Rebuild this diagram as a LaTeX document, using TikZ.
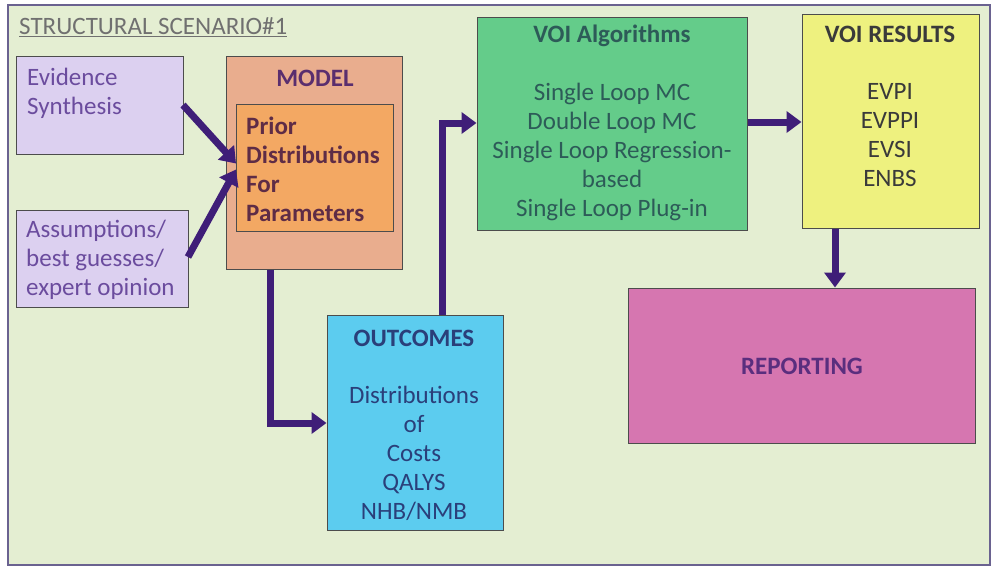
\documentclass[tikz,border=0pt]{standalone}
\usepackage{fontspec}
\setmainfont{Carlito}
\usetikzlibrary{arrows.meta}
\definecolor{bgc}{HTML}{E4EED2}
\definecolor{framec}{HTML}{6A6290}
\definecolor{lav}{HTML}{DCD0F0}
\definecolor{salmon}{HTML}{E9AD8E}
\definecolor{orng}{HTML}{F3A863}
\definecolor{cyanb}{HTML}{5CCCEF}
\definecolor{greenb}{HTML}{64CC8A}
\definecolor{yellowb}{HTML}{EEF17F}
\definecolor{pinkb}{HTML}{D676B0}
\definecolor{arrc}{HTML}{3F1E78}
\definecolor{lavtext}{HTML}{6B4C9E}
\definecolor{modeltext}{HTML}{5A2E6E}
\definecolor{priortext}{HTML}{5E2C46}
\definecolor{voitext}{HTML}{2D5B58}
\definecolor{restext}{HTML}{3A3A3A}
\definecolor{outtext}{HTML}{2A3F7A}
\definecolor{reptext}{HTML}{5A2E7E}
\definecolor{titletext}{HTML}{707070}
\tikzset{
  boxc/.style={draw=black!70, line width=1pt, inner sep=0pt},
  txt/.style={inner sep=0pt, font=\fontsize{25}{29}\selectfont, align=center},
  btxt/.style={txt, font=\fontsize{25}{29}\selectfont\bfseries},
  conn/.style={draw=arrc, line width=7pt, -{Triangle[length=15pt,width=21pt]}},
}
\begin{document}
\begin{tikzpicture}[x=1pt,y=1pt]
\useasboundingbox (0,0) rectangle (993,-568);
\node[draw=framec, fill=bgc, line width=1.2pt, minimum width=982pt, minimum height=560pt, inner sep=0pt] (frame) at (499,-285) {};
\node[anchor=west, inner sep=0pt, text=titletext, font=\fontsize{25}{28}\selectfont] (title) at (19,-27) {\underline{STRUCTURAL SCENARIO\#1}};

% boxes
\node[boxc, fill=lav, minimum width=167pt, minimum height=98pt] (evid) at (99.5,-105) {};
\node[boxc, fill=lav, minimum width=172pt, minimum height=97pt] (assum) at (102,-258.5) {};
\node[boxc, fill=salmon, minimum width=176pt, minimum height=213pt] (model) at (314,-162.5) {};
\node[boxc, fill=orng, minimum width=157pt, minimum height=127pt] (prior) at (314.5,-167.5) {};
\node[boxc, fill=cyanb, minimum width=176pt, minimum height=215pt] (outc) at (415,-422.5) {};
\node[boxc, fill=greenb, minimum width=270pt, minimum height=213pt] (voia) at (612,-123.5) {};
\node[boxc, fill=yellowb, minimum width=177pt, minimum height=214pt] (voir) at (890.5,-121) {};
\node[boxc, fill=pinkb, minimum width=347pt, minimum height=155pt] (rep) at (801.5,-365.5) {};

% texts
\node[txt, anchor=west, align=left, text=lavtext] (evidt) at (27,-93) {Evidence\\Synthesis};
\node[txt, anchor=west, align=left, text=lavtext] (assumt) at (26,-260) {Assumptions/\\best guesses/\\expert opinion};
\node[btxt, text=modeltext] (modelt) at (315,-78) {MODEL};
\node[btxt, anchor=west, align=left, text=priortext] (priort) at (246,-169) {Prior\\Distributions\\For\\Parameters};
\node[btxt, text=outtext] (outt) at (414,-338) {OUTCOMES};
\node[txt, text=outtext] (outb) at (414,-453) {Distributions\\of\\Costs\\QALYS\\NHB/NMB};
\node[btxt, text=voitext] (voiat) at (612,-36) {VOI Algorithms};
\node[txt, text=voitext] (voiab) at (612,-152) {Single Loop MC\\Double Loop MC\\Single Loop Regression-\\based\\Single Loop Plug-in};
\node[btxt, text=restext] (voirt) at (890,-34) {VOI RESULTS};
\node[txt, text=restext] (voirb) at (890,-135) {EVPI\\EVPPI\\EVSI\\ENBS};
\node[btxt, text=reptext] (rept) at (802,-366) {REPORTING};

% connectors
\coordinate (e0) at (183,-105);
\coordinate (a0) at (188,-257);
\coordinate (pin) at (236,-166.5);
\draw[conn] (e0) -- ([yshift=3pt]pin);
\draw[conn] (a0) -- ([yshift=-3pt]pin);
\draw[conn] (model.south -| 270,0) |- (outc.west |- 0,-423);
\draw[conn] (outc.north -| 442,0) |- (voia.west |- 0,-123);
\draw[conn] (voia.east |- 0,-122) -- (voir.west |- 0,-122);
\draw[conn] (voir.south -| 835,0) -- (rep.north -| 835,0);
\end{tikzpicture}
\end{document}
